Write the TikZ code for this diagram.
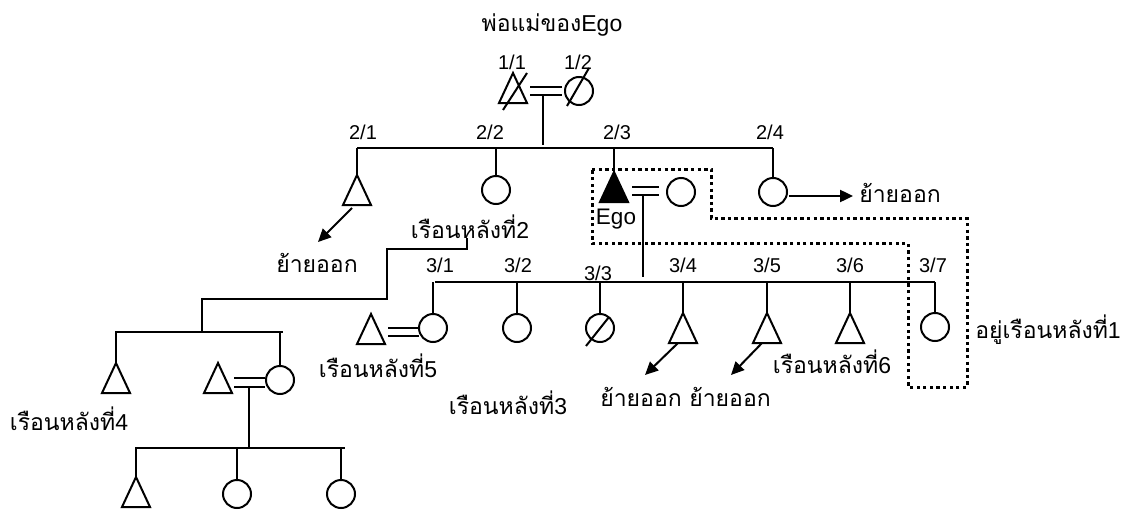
\documentclass[tikz,border=0pt]{standalone}
\usepackage{fontspec}
\setmainfont{Liberation Sans}
\newfontfamily\thai[Script=Thai]{Loma}
\usetikzlibrary{arrows.meta,calc}
\begin{document}
\begin{tikzpicture}[x=1pt,y=-1pt,
  ln/.style={line width=2pt},
  arr/.style={line width=2pt,-{Triangle[length=13pt,width=12pt]}},
  lbl/.style={font=\fontsize{20}{20}\selectfont, inner sep=0},
  th/.style={font=\fontsize{23}{23}\selectfont, inner sep=0},
  tri/.style={minimum width=28pt, minimum height=30pt, inner sep=0, outer sep=0,
    append after command={\pgfextra{\draw[line width=2pt,line join=miter,#1]
      (\tikzlastnode.south west) -- (\tikzlastnode.north) -- (\tikzlastnode.south east) -- cycle;}}},
  tri/.default={},
  circ/.style={circle, draw, line width=2pt, minimum size=28pt, inner sep=0, outer sep=0},
  dotbox/.style={line width=3pt, dash pattern=on 3.3pt off 3.3pt}
]
\useasboundingbox (0,0) rectangle (1132,514);

% ---------- texts ----------
\node[th] (title) at (552,25) {{\thai พ่อแม่ของ}Ego};
\node[lbl] (l11) at (512,62) {1/1};
\node[lbl] (l12) at (578,62) {1/2};
\node[lbl] (l21) at (363,132) {2/1};
\node[lbl] (l22) at (490,132) {2/2};
\node[lbl] (l23) at (617,132) {2/3};
\node[lbl] (l24) at (770,132) {2/4};
\node[lbl] (l31) at (440,265) {3/1};
\node[lbl] (l32) at (518,265) {3/2};
\node[lbl] (l33) at (598,273) {3/3};
\node[lbl] (l34) at (683,265) {3/4};
\node[lbl] (l35) at (767,265) {3/5};
\node[lbl] (l36) at (850,265) {3/6};
\node[lbl] (l37) at (933,265) {3/7};

\node[th] (mv21) at (317,263) {\thai ย้ายออก};
\node[th] (r2) at (470,227) {{\thai เรือนหลังที่}2};
\node[font=\fontsize{22.5}{22.5}\selectfont, inner sep=0] (ego) at (616,219) {Ego};
\node[th] (mv24) at (900,193) {\thai ย้ายออก};
\node[th] (r5) at (378,366) {{\thai เรือนหลังที่}5};
\node[th] (r3) at (508,403) {{\thai เรือนหลังที่}3};
\node[th] (mv34) at (641,397) {\thai ย้ายออก};
\node[th] (mv35) at (730,397) {\thai ย้ายออก};
\node[th] (r6) at (832,362) {{\thai เรือนหลังที่}6};
\node[th] (r1) at (1048,330) {{\thai อยู่เรือนหลังที่}1};
\node[th] (r4) at (69,419) {{\thai เรือนหลังที่}4};

% ---------- generation 1 ----------
\node[tri] (t11) at (513,88) {};
\node[circ] (c12) at (579,91) {};
\draw[ln] ([shift={(-10,7)}]t11.south) -- ([shift={(14,0)}]t11.north);
\draw[ln] ([shift={(-12,15)}]c12.center) -- ([shift={(10,-23)}]c12.center);
\draw[ln] ([shift={(3,-1)}]t11.east) -- ++(32,0);
\draw[ln] ([shift={(3,7)}]t11.east) -- node[coordinate,pos=0.41] (d1) {} ++(32,0);

% ---------- generation 2 ----------
\coordinate (s2a) at (357,148);
\coordinate (s2b) at (773,148);
\draw[ln] (s2a) -- (s2b);
\draw[ln] (d1) -- ([yshift=3]d1 |- s2a);

\node[tri] (t21) at (357,190) {};
\node[circ] (c22) at (496,190) {};
\node[tri={fill=black}] (t23) at (614,187) {};
\node[circ] (c23) at (681,192) {};
\node[circ] (c24) at (773,192) {};
\foreach \n in {t21,c22,t23,c24} \draw[ln] (\n.north) -- (\n.north |- s2a);

\draw[ln] ([shift={(4,0)}]t23.east) -- ++(27,0);
\draw[ln] ([shift={(4,8)}]t23.east) -- node[coordinate,pos=0.41] (d2) {} ++(27,0);

\draw[arr] ([shift={(-5,3)}]t21.south) -- ([shift={(1,-21)}]mv21.center);
\draw[arr] ([shift={(2,4)}]c24.east) -- ([shift={(-6,3)}]mv24.west);

% ---------- generation 3 ----------
\coordinate (s3a) at (435,282);
\coordinate (s3b) at (935,282);
\draw[ln] (s3a) -- (s3b);
\draw[ln] (d2) -- ([yshift=5]d2 |- s3a);

\node[tri] (t31) at (371,329) {};
\node[circ] (c31) at (433,328) {};
\node[circ] (c32) at (517,328) {};
\node[circ] (c33) at (600,328) {};
\node[tri] (t34) at (683,328) {};
\node[tri] (t35) at (767,328) {};
\node[tri] (t36) at (850,328) {};
\node[circ] (c37) at (935,327) {};
\foreach \n in {c31,c32,c33,t34,t35,t36,c37} \draw[ln] (\n.north) -- (\n.north |- s3a);
\draw[ln] ([shift={(-14,18)}]c33.center) -- ([shift={(9,-11)}]c33.center);

\draw[ln] ([shift={(3,-1)}]t31.east) -- ++(31,0);
\draw[ln] ([shift={(3,7)}]t31.east) -- ++(31,0);

\draw[arr] ([shift={(-5,0)}]t34.south) -- ([shift={(4,-22)}]mv34.center);
\draw[arr] ([shift={(-5,0)}]t35.south) -- ([shift={(1,-22)}]mv35.center);

% ---------- left branch (house 2) ----------
\coordinate (k1) at (387,249);
\coordinate (k2) at (202,299);
\coordinate (s4a) at (115,332);
\coordinate (s4b) at (283,332);
\draw[ln] ([shift={(-3,11)}]r2.center) |- (k1) |- (k2) -- (k2 |- s4a);
\draw[ln] (s4a) -- (s4b);

\node[tri] (t4a) at (116,378) {};
\node[tri] (t4h) at (218,378) {};
\node[circ] (c4w) at (280,380) {};
\foreach \n in {t4a,c4w} \draw[ln] (\n.north) -- (\n.north |- s4a);
\draw[ln] ([shift={(2,0)}]t4h.east) -- ++(31,0);
\draw[ln] ([shift={(2,9)}]t4h.east) -- node[coordinate,pos=0.48] (d3) {} ++(31,0);

\coordinate (s5a) at (135,448);
\coordinate (s5b) at (345,448);
\draw[ln] (s5a) -- (s5b);
\draw[ln] (d3) -- (d3 |- s5a);

\node[tri] (t5a) at (136,492) {};
\node[circ] (c5b) at (237,494) {};
\node[circ] (c5c) at (341,494) {};
\foreach \n in {t5a,c5b,c5c} \draw[ln] (\n.north) -- (\n.north |- s5a);

% ---------- dotted household boundary ----------
\draw[dotbox] (592,169) -- (711,169) -- (711,218) -- (967,218) -- (967,387)
  -- (908,387) -- (908,243) -- (592,243) -- cycle;
\end{tikzpicture}
\end{document}
